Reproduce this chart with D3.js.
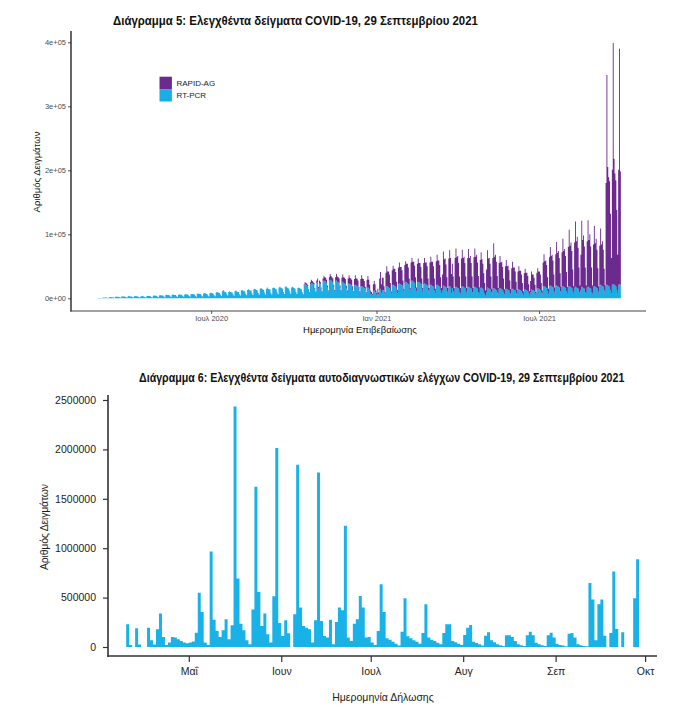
<!DOCTYPE html>
<html>
<head>
<meta charset="utf-8">
<script src="https://cdnjs.cloudflare.com/ajax/libs/d3/7.8.5/d3.min.js"></script>
<style>
  body { margin: 0; background: #fff; }
  svg { display: block; }
</style>
</head>
<body>
<svg id="chart" width="698" height="721"></svg>
<script>
// ---- Διάγραμμα 5: daily tested samples (thousands), one row per week Mon..Sun
const c5Start = "2020-02-26";
const rtpcr = [
  0.4,0.5,0.6,0.4,0.3,
  1.2,1.4,1.3,1.2,1.1,0.8,0.5,
  1.8,2.0,1.9,1.8,1.7,1.1,0.7,
  2.3,2.6,2.5,2.3,2.2,1.5,0.9,
  2.8,3.1,3.0,2.8,2.6,1.8,1.1,
  3.1,3.4,3.2,3.0,2.9,1.9,1.2,
  3.2,3.5,3.3,3.2,2.9,2.0,1.3,
  2.9,3.3,3.4,3.1,2.4,1.5,1.1,
  3.6,3.9,3.7,3.5,3.3,2.2,1.4,
  4.0,4.4,4.2,4.0,3.4,2.4,1.6,
  4.6,4.9,4.7,4.5,4.2,2.8,1.8,
  5.1,5.5,5.2,5.0,4.7,3.1,2.0,
  5.4,5.8,5.6,5.3,5.0,3.3,2.2,
  5.6,6.1,5.8,5.5,5.2,3.4,2.3,
  6.0,6.5,6.2,5.9,5.5,3.6,2.4,
  6.2,6.9,6.6,6.3,5.9,3.9,2.6,
  7.0,7.6,7.2,6.8,6.4,4.2,2.8,
  7.4,8.1,7.7,7.3,6.9,4.5,3.0,
  8.0,8.7,8.2,7.8,7.3,4.8,3.2,
  9.0,9.8,9.3,8.8,8.2,5.4,3.6,
  11,13,11,10,9.5,6.5,4.2,
  10,11,10,9.6,9.1,6.0,4.0,
  11,12,11,10,9.8,6.5,4.4,
  12,13,12,11,11,7.2,4.8,
  13,14,13,12,12,7.8,5.2,
  14,15,14,13,12,8.4,5.6,
  15,16,15,14,13,9.0,6.0,
  15,17,15,14,14,9.0,6.0,
  16,17,16,15,14,9.6,6.4,
  17,18,17,16,15,10,6.8,
  18,19,17,16,15,11,7.2,
  17,18,17,16,15,10,6.8,
  16,17,16,15,14,9.6,6.4,
  20,22,21,20,19,13,9.0,
  22,24,23,22,21,14,9.5,
  24,25,15,23,22,15,10,
  26,28,27,26,24,17,11,
  27,29,28,26,25,17,11,
  26,28,26,25,24,16,11,
  24,26,24,23,22,15,10,
  22,23,22,21,20,13,9,
  20,21,20,19,18,12,8,
  18,19,18,17,16,11,7,
  16,17,15,12,7,6,5,
  11,12,10,6,4,7,6,
  13,15,8,12,13,9,6,
  18,19,18,17,16,11,7,
  20,21,20,19,18,12,8,
  22,23,22,21,20,13,9,
  24,26,25,24,22,15,10,
  26,28,27,25,24,16,11,
  25,26,25,24,22,15,10,
  22,23,22,21,20,13,9,
  20,21,20,19,18,12,8,
  20,21,20,19,18,12,8,
  12,20,19,18,17,11,8,
  18,19,18,8,16,11,7,
  17,18,17,16,15,10,7,
  18,19,18,17,16,11,7,
  17,18,17,16,15,10,7,
  17,18,17,16,15,10,7,
  16,17,16,14,9,6,4,
  10,17,16,15,14,10,6,
  15,16,15,14,13,9,6,
  15,16,15,14,13,9,6,
  14,15,14,13,12,8,6,
  14,15,14,13,12,8,6,
  13,14,13,12,11,8,5,
  13,14,13,12,11,8,5,
  9,14,13,12,11,8,5,
  15,16,15,14,13,9,6,
  18,19,18,17,16,11,7,
  19,20,19,18,17,11,8,
  19,20,19,18,17,11,8,
  18,19,18,17,16,11,7,
  18,19,18,17,16,11,7,
  17,18,17,16,15,10,7,
  13,18,17,16,15,10,7,
  17,18,17,16,15,10,7,
  18,19,18,17,16,11,7,
  20,21,20,19,18,12,8,
  20,21,20,19,18,12,8,
  21,22,21,20,19,13,8,
  21,22,21
];
const rapidStart = "2020-10-12";
const rapid = [
  2,3,3,3,2,1,1,
  3,5,4,4,3,2,1,
  4,6,3,5,4,2,1,
  5,7,6,6,5,3,1,
  6,9,7,7,6,4,2,
  7,10,8,8,7,4,2,
  8,11,9,9,8,5,2,
  9,13,10,10,9,6,2,
  10,15,11,12,10,6,3,
  12,17,13,13,11,7,3,
  13,18,14,9,5,4,2,
  11,15,12,6,4,8,3,
  18,26,14,20,19,10,4,
  22,31,24,25,21,13,4,
  24,30,26,27,23,14,5,
  26,33,27,28,24,15,5,
  28,32,29,30,26,16,6,
  30,35,30,32,27,17,6,
  29,36,30,31,27,16,6,
  33,40,34,35,30,18,7,
  36,44,37,38,32,19,7,
  38,47,39,40,34,21,8,
  25,53,42,44,36,22,8,
  44,56,45,30,38,23,9,
  46,60,47,50,40,24,9,
  44,57,45,48,39,23,9,
  46,59,46,50,40,24,9,
  47,60,48,52,41,25,10,
  44,55,45,40,30,18,8,
  35,58,46,48,40,24,9,
  48,70,50,54,44,26,10,
  40,50,41,43,36,22,8,
  36,45,36,38,32,20,8,
  33,42,34,35,30,18,7,
  29,36,30,31,26,16,6,
  26,32,27,28,24,14,6,
  18,28,24,25,21,13,5,
  25,31,27,28,24,15,6,
  38,50,40,42,36,22,8,
  45,60,47,50,42,26,9,
  50,68,52,56,46,28,10,
  54,74,56,60,50,30,11,
  62,88,64,70,58,34,12,
  70,102,72,80,64,38,13,
  55,103,74,82,66,38,13,
  72,104,74,84,66,38,13,
  66,94,68,76,60,36,12,
  62,88,64,70,58,34,12,
  160,328,185,170,165,120,55,
  180,377,197,175,165,125,60,
  180,368,177
];
const c5Series = ["RT-PCR", "RAPID-AG"];
const c5Legend = ["RAPID-AG", "RT-PCR"];
const c5YTicks = [0, 100000, 200000, 300000, 400000];
const c5YLabels = ["0e+00", "1e+05", "2e+05", "3e+05", "4e+05"];
const c5XTicks = ["2020-07-01", "2021-01-01", "2021-07-01"];
const c5XLabels = ["Ιουλ 2020", "Ιαν 2021", "Ιουλ 2021"];

// ---- Διάγραμμα 6: self-test samples per declaration date (thousands)
const c6Start = "2021-04-10";
const selfTests = [
  230,20,0,190,25,0,0,196,68,25,180,340,100,20,45,100,95,78,60,45,38,45,55,145,550,355,45,20,
  966,277,162,100,170,280,78,220,2435,693,236,170,68,27,380,1622,557,213,338,128,45,513,2013,
  243,111,270,138,0,331,1845,400,213,196,180,45,270,1767,264,111,95,277,27,253,400,372,1226,
  95,60,236,280,517,400,95,100,45,20,162,635,355,88,74,54,34,15,155,493,108,88,68,54,34,142,
  432,95,74,61,44,27,142,230,230,61,47,34,20,122,196,223,54,40,27,14,115,149,68,47,27,17,10,
  118,118,100,61,27,17,10,118,155,118,44,27,17,10,118,145,95,34,20,14,7,135,142,95,27,17,10,7,
  649,480,68,432,480,115,0,142,764,182,0,149,0,0,0,493,888
];
const c6YTicks = [0, 500000, 1000000, 1500000, 2000000, 2500000];
const c6XTicks = ["2021-05-01", "2021-06-01", "2021-07-01", "2021-08-01", "2021-09-01", "2021-10-01"];
const c6XLabels = ["Μαΐ", "Ιουν", "Ιουλ", "Αυγ", "Σεπ", "Οκτ"];

const parse = d3.timeParse("%Y-%m-%d");
const svg = d3.select("#chart");
const purple = "#6a2a8e", blue = "#1aaee5", blue6 = "#19b2e8";
const sans = "'Liberation Sans', Arial, sans-serif";

// one path per series: daily bars are too thin to draw as separate rects without seams
function barsPath(items, xs, dateOf, top, bottom) {
  return items.map(d => {
    const t = dateOf(d);
    const a = xs(t), b = xs(d3.timeDay.offset(t, 1));
    return `M${a},${top(d)}H${b}V${bottom(d)}H${a}Z`;
  }).join("");
}

// fit a text to a width by squeezing it horizontally
function squeeze(sel, x, y, width) {
  const w = sel.node().getComputedTextLength();
  sel.attr("transform", `translate(${x},${y}) scale(${width / w},1)`);
}

// ================= chart 5 =================
const d0 = parse(c5Start), r0 = parse(rapidStart);
const rows = rtpcr.map((v, i) => {
  const date = d3.timeDay.offset(d0, i);
  const k = d3.timeDay.count(r0, date);
  return { date, "RT-PCR": v * 1000, "RAPID-AG": (k >= 0 && k < rapid.length ? rapid[k] : 0) * 1000 };
});
const stacked = d3.stack().keys(c5Series)(rows);

const x5 = d3.scaleTime().domain([parse("2020-01-27"), parse("2021-10-28")]).range([71, 646]);
const y5 = d3.scaleLinear().domain([0, 400000]).range([298.3, 42.3]);
const colors5 = { "RT-PCR": blue, "RAPID-AG": purple };

const g5 = svg.append("g");
stacked.forEach(s => {
  g5.append("path")
    .attr("fill", colors5[s.key])
    .attr("d", barsPath(s, x5, p => p.data.date, p => y5(p[1]), p => y5(p[0])));
});

// axes
g5.append("g").attr("transform", "translate(71,0)")
  .call(d3.axisLeft(y5).tickValues(c5YTicks).tickFormat((d, i) => c5YLabels[i]).tickSize(3).tickPadding(2))
  .call(g => g.select(".domain").remove())
  .call(g => g.selectAll("line").attr("stroke", "#555"))
  .call(g => g.selectAll("text").attr("fill", "#4d4d4d").style("font", `7.5px ${sans}`));
g5.append("g").attr("transform", "translate(0,311)")
  .call(d3.axisBottom(x5).tickValues(c5XTicks.map(parse)).tickFormat((d, i) => c5XLabels[i]).tickSize(3).tickPadding(1.5))
  .call(g => g.select(".domain").remove())
  .call(g => g.selectAll("line").attr("stroke", "#555"))
  .call(g => g.selectAll("text").attr("fill", "#4d4d4d").style("font", `7.5px ${sans}`));
g5.append("line").attr("x1", 71).attr("x2", 71).attr("y1", 31).attr("y2", 311.5)
  .attr("stroke", "#000").attr("stroke-width", 1.2);
g5.append("line").attr("x1", 70.5).attr("x2", 646).attr("y1", 311).attr("y2", 311)
  .attr("stroke", "#444").attr("stroke-width", 1.2);

// legend
const leg = g5.selectAll("g.leg").data(c5Legend).join("g")
  .attr("transform", (d, i) => `translate(159.5,${76.7 + i * 12.4})`);
leg.append("rect").attr("width", 12.4).attr("height", 12.4).attr("fill", d => colors5[d]);
leg.append("text").attr("x", 17).attr("y", 6.2).attr("dy", "0.35em")
  .style("font", `8px ${sans}`).attr("fill", "#222").text(d => d);

// titles
const t5 = svg.append("text")
  .style("font", `bold 12.5px ${sans}`).attr("fill", "#111")
  .text("Διάγραμμα 5: Ελεγχθέντα δείγματα COVID-19, 29 Σεπτεμβρίου 2021");
squeeze(t5, 113, 24.5, 365);
svg.append("text").attr("x", 360).attr("y", 332.5).attr("text-anchor", "middle")
  .style("font", `9.5px ${sans}`).attr("fill", "#111")
  .text("Ημερομηνία Επιβεβαίωσης");
svg.append("text").attr("transform", "translate(40,172) rotate(-90)").attr("text-anchor", "middle")
  .style("font", `9.5px ${sans}`).attr("fill", "#111")
  .text("Αριθμός Δειγμάτων");

// ================= chart 6 =================
const s6 = parse(c6Start);
const rows6 = selfTests.map((v, i) => ({ date: d3.timeDay.offset(s6, i), value: v * 1000 }));
const x6 = d3.scaleTime().domain([parse("2021-05-01"), parse("2021-10-01")]).range([188.8, 645.1]);
const y6 = d3.scaleLinear().domain([0, 2500000]).range([647, 400]);

const g6 = svg.append("g");
g6.append("path")
  .attr("fill", blue6)
  .attr("d", barsPath(rows6.filter(d => d.value > 0), x6, d => d.date, d => y6(d.value), () => y6(0)));

g6.append("g").attr("transform", "translate(108,0)")
  .call(d3.axisLeft(y6).tickValues(c6YTicks).tickFormat(d3.format("d")).tickSize(5).tickPadding(7))
  .call(g => g.select(".domain").remove())
  .call(g => g.selectAll("line").attr("stroke", "#333").attr("stroke-width", 1.2))
  .call(g => g.selectAll("text").attr("fill", "#222").style("font", `10.5px ${sans}`));
g6.append("g").attr("transform", "translate(0,656)")
  .call(d3.axisBottom(x6).tickValues(c6XTicks.map(parse)).tickFormat((d, i) => c6XLabels[i]).tickSize(6).tickPadding(6))
  .call(g => g.select(".domain").remove())
  .call(g => g.selectAll("line").attr("stroke", "#333").attr("stroke-width", 1.2))
  .call(g => g.selectAll("text").attr("fill", "#222").style("font", `10.5px ${sans}`));
g6.append("line").attr("x1", 108).attr("x2", 108).attr("y1", 395).attr("y2", 657)
  .attr("stroke", "#333").attr("stroke-width", 1.6);
g6.append("line").attr("x1", 107.5).attr("x2", 657).attr("y1", 656).attr("y2", 656)
  .attr("stroke", "#333").attr("stroke-width", 1.6);

const t6 = svg.append("text")
  .style("font", `bold 12.5px ${sans}`).attr("fill", "#111")
  .text("Διάγραμμα 6: Ελεγχθέντα δείγματα αυτοδιαγνωστικών ελέγχων COVID-19, 29 Σεπτεμβρίου 2021");
squeeze(t6, 139, 382, 486);
svg.append("text").attr("x", 383).attr("y", 701).attr("text-anchor", "middle")
  .style("font", `10.5px ${sans}`).attr("fill", "#222")
  .text("Ημερομηνία Δήλωσης");
svg.append("text").attr("transform", "translate(48,527) rotate(-90)").attr("text-anchor", "middle")
  .attr("textLength", 86).attr("lengthAdjust", "spacing")
  .style("font", `10.5px ${sans}`).attr("fill", "#222")
  .text("Αριθμός Δειγμάτων");
</script>
</body>
</html>
